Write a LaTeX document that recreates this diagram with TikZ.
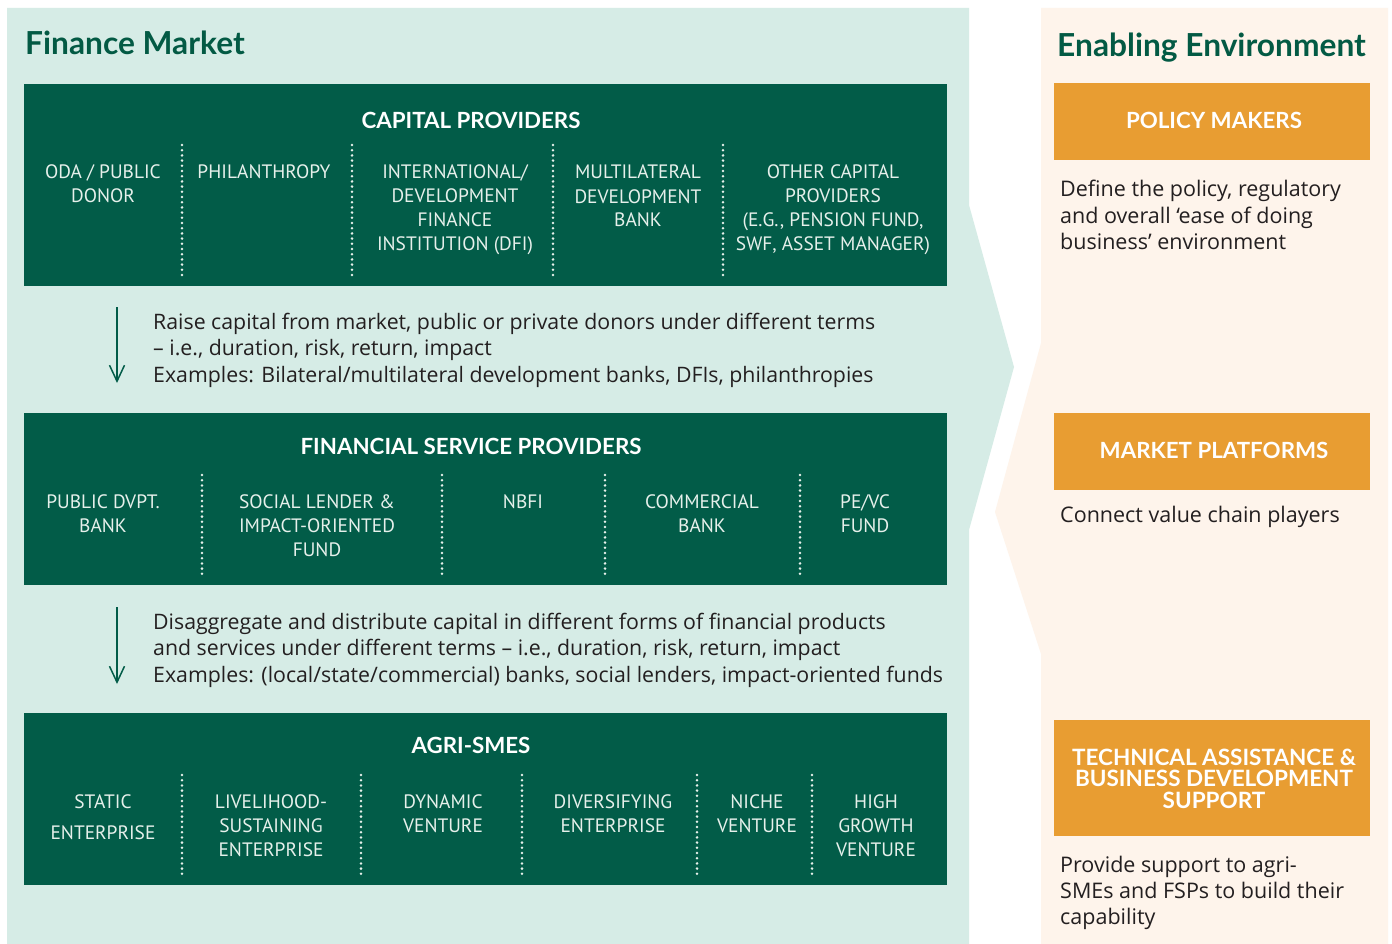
\documentclass[tikz,border=0pt]{standalone}
\usepackage{fontspec}
\setmainfont{Lato}
\newfontfamily\labelfont{PT Sans}
\newfontfamily\descfont{Open Sans}
\usetikzlibrary{arrows.meta}
\definecolor{dkgreen}{RGB}{2,92,72}
\definecolor{mint}{RGB}{214,236,230}
\definecolor{cream}{RGB}{254,244,235}
\definecolor{orangebox}{RGB}{232,157,50}
\definecolor{titlegreen}{RGB}{3,90,68}
\definecolor{bodytext}{RGB}{35,31,32}
\definecolor{labelwhite}{RGB}{230,240,235}
\tikzset{
  band/.style={fill=dkgreen, draw=none, inner sep=0pt, anchor=north west},
  obox/.style={fill=orangebox, draw=none, inner sep=0pt, anchor=north west, minimum width=316pt},
  coltext/.style={font=\labelfont\fontsize{19.4}{24}\selectfont, text=labelwhite, align=center, anchor=base, inner sep=0pt},
  bandtitle/.style={font=\bfseries\fontsize{22.3}{21.5}\selectfont, text=white, align=center, anchor=base, inner sep=0pt},
  desc/.style={font=\descfont\fontsize{21.3}{26.7}\selectfont, text=bodytext, align=left, anchor=base west, inner sep=0pt},
  rdesc/.style={desc, font=\descfont\fontsize{21.5}{26.2}\selectfont},
  paneltitle/.style={font=\bfseries\fontsize{31.7}{32}\selectfont, text=titlegreen, anchor=base west, inner sep=0pt},
  sepline/.style={labelwhite, line width=2.8pt, line cap=round, dash pattern=on 0pt off 5.2pt},
  flow/.style={draw=dkgreen, line width=1.5pt, -{Straight Barb[length=16pt,width=15pt]}}
}
\begin{document}
\begin{tikzpicture}[x=1pt,y=-1pt]
\useasboundingbox (0,0) rectangle (1392,944);
\fill[white] (0,0) rectangle (1392,944);
% backgrounds
\fill[mint] (7,8) -- (969,8) -- (969,205) -- (1014,367) -- (969,530) -- (969,944) -- (7,944) -- cycle;
\fill[cream] (1041,8) -- (1388,8) -- (1388,944) -- (1041,944) -- (1041,654) -- (995,512) -- (1041,343) -- cycle;

% titles
\node[paneltitle] (fmtitle) at (25,55) {Finance Market};
\node[paneltitle] (eetitle) at (1057,57) {Enabling Environment};

% capital providers (anchor = baseline of last line)
\node[band, minimum width=923pt, minimum height=202pt] (cap) at (24,84) {};
\node[bandtitle] (captitle) at (471,129) {CAPITAL PROVIDERS};
\node[coltext] (oda) at (103,203) {ODA / PUBLIC\\DONOR};
\node[coltext] (phil) at (264,179) {PHILANTHROPY};
\node[coltext] (dfi) at (455,251) {INTERNATIONAL/\\DEVELOPMENT\\FINANCE\\INSTITUTION (DFI)};
\node[coltext] (mdb) at (638,227) {MULTILATERAL\\DEVELOPMENT\\BANK};
\node[coltext] (other) at (833,251) {OTHER CAPITAL\\PROVIDERS\\(E.G., PENSION FUND,\\SWF, ASSET MANAGER)};
\foreach \x in {182,352,553,723} \draw[sepline] (\x,145) -- (\x,275);

% arrow 1
\coordinate (a1s) at (117,307);
\coordinate (a1e) at (117,383);
\draw[flow] (a1s) -- (a1e);
\node[desc] (d1) at (153,382.4) {Raise capital from market, public or private donors under different terms\\– i.e., duration, risk, return, impact\\Examples: Bilateral/multilateral development banks, DFIs, philanthropies};

% financial service providers
\node[band, minimum width=923pt, minimum height=172pt] (fsp) at (24,413) {};
\node[bandtitle] (fsptitle) at (471,454) {FINANCIAL SERVICE PROVIDERS};
\node[coltext] (pdb) at (103,532) {PUBLIC DVPT.\\BANK};
\node[coltext] (slif) at (317,556) {SOCIAL LENDER \&\\IMPACT-ORIENTED\\FUND};
\node[coltext] (nbfi) at (523,508) {NBFI};
\node[coltext] (comm) at (702,532) {COMMERCIAL\\BANK};
\node[coltext] (pevc) at (865,532) {PE/VC\\FUND};
\foreach \x in {202,442,605,800} \draw[sepline] (\x,475) -- (\x,577);

% arrow 2
\coordinate (a2s) at (117,607);
\coordinate (a2e) at (117,684);
\draw[flow] (a2s) -- (a2e);
\node[desc] (d2) at (153,682.4) {Disaggregate and distribute capital in different forms of financial products\\and services under different terms – i.e., duration, risk, return, impact\\Examples: (local/state/commercial) banks, social lenders, impact-oriented funds};

% agri-smes
\node[band, minimum width=923pt, minimum height=172pt] (agri) at (24,713) {};
\node[bandtitle] (agrititle) at (471,753) {AGRI-SMES};
\node[coltext] (static) at (103,839) {STATIC\\[7pt]ENTERPRISE};
\node[coltext] (liveli) at (271,856) {LIVELIHOOD-\\SUSTAINING\\ENTERPRISE};
\node[coltext] (dyn) at (443,832) {DYNAMIC\\VENTURE};
\node[coltext] (divers) at (613,832) {DIVERSIFYING\\ENTERPRISE};
\node[coltext] (niche) at (757,832) {NICHE\\VENTURE};
\node[coltext] (high) at (876,856) {HIGH\\GROWTH\\VENTURE};
\foreach \x in {182,361,522,697,812} \draw[sepline] (\x,775) -- (\x,877);

% enabling environment
\node[obox, minimum height=77pt] (pm) at (1054,83) {};
\node[bandtitle] (pmtitle) at (1214,129) {POLICY MAKERS};
\node[rdesc] (pmdesc) at (1060,249.4) {Define the policy, regulatory\\and overall ‘ease of doing\\business’ environment};

\node[obox, minimum height=77pt] (mp) at (1054,413) {};
\node[bandtitle] (mptitle) at (1214,458) {MARKET PLATFORMS};
\node[rdesc] (mpdesc) at (1060,522) {Connect value chain players};

\node[obox, minimum height=116pt] (ta) at (1054,720) {};
\node[bandtitle, font=\bfseries\fontsize{22.5}{21.5}\selectfont] (tatitle) at (1214,808) {TECHNICAL ASSISTANCE \&\\BUSINESS DEVELOPMENT\\SUPPORT};
\node[rdesc] (tadesc) at (1060,924.4) {Provide support to agri-\\SMEs and FSPs to build their\\capability};
\end{tikzpicture}
\end{document}
